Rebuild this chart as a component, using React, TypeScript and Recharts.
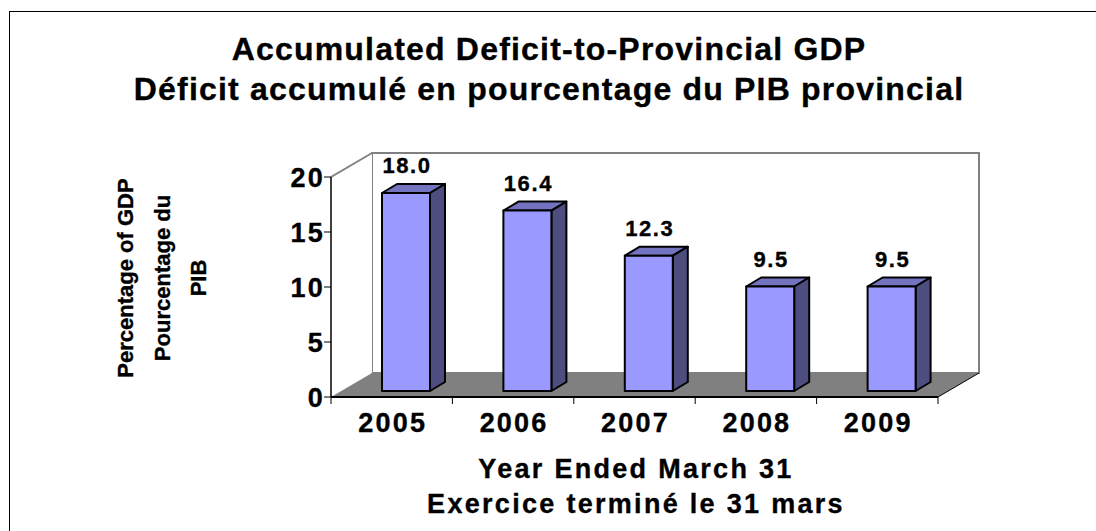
import React from 'react';
import { BarChart, Bar, XAxis, YAxis, ReferenceArea, LabelList } from 'recharts';

const years = ['2005', '2006', '2007', '2008', '2009'];
const deficitPct = [18.0, 16.4, 12.3, 9.5, 9.5];
const yTicks = [0, 5, 10, 15, 20];

const titleLines = [
  'Accumulated Deficit-to-Provincial GDP',
  'Déficit accumulé en pourcentage du PIB provincial',
];
const xTitleLines = ['Year Ended March 31', 'Exercice terminé le 31 mars'];
const yTitleLines = ['Percentage of GDP', 'Pourcentage du', 'PIB'];

const data = years.map((year, i) => ({ year, value: deficitPct[i] }));

const FONT = '"Liberation Sans", Arial, Helvetica, sans-serif';

// 3D look: wall depth and bar depth (px)
const WALL_DX = 41;
const WALL_DY = -24;
const BAR_DX = 15;
const BAR_DY = -9;
// bars sit a little behind the front edge
const BAR_OX = 14;
const BAR_OY = -6;

// slightly heavier text, closer to the GDI bold of the original
const heavy = { stroke: '#000', strokeWidth: 0.35 };

const Walls = (props: any) => {
  const { x, y, width: w, height: h } = props;
  const bottom = y + h;
  const n = years.length;
  return (
    <g>
      {/* back wall */}
      <polygon
        points={`${x + WALL_DX},${y + WALL_DY} ${x + w + WALL_DX},${y + WALL_DY} ${x + w + WALL_DX},${bottom + WALL_DY} ${x + WALL_DX},${bottom + WALL_DY}`}
        fill="#fff"
        stroke="#808080"
        strokeWidth={2}
      />
      {/* left wall */}
      <polygon
        points={`${x},${y} ${x + WALL_DX},${y + WALL_DY} ${x + WALL_DX},${bottom + WALL_DY} ${x},${bottom}`}
        fill="#fff"
        stroke="none"
      />
      <line x1={x} y1={y} x2={x + WALL_DX} y2={y + WALL_DY} stroke="#808080" strokeWidth={2} />
      {/* floor */}
      <polygon
        points={`${x},${bottom} ${x + w},${bottom} ${x + w + WALL_DX},${bottom + WALL_DY} ${x + WALL_DX},${bottom + WALL_DY}`}
        fill="#808080"
        stroke="none"
      />
      <line x1={x + w} y1={bottom} x2={x + w + WALL_DX} y2={bottom + WALL_DY} stroke="#000" strokeWidth={1} />
      {/* category boundary ticks */}
      {Array.from({ length: n + 1 }).map((_, i) => (
        <line
          key={i}
          x1={x + (i * w) / n}
          x2={x + (i * w) / n}
          y1={bottom}
          y2={bottom + 7}
          stroke="#000"
          strokeWidth={1}
        />
      ))}
    </g>
  );
};

const Bar3D = (props: any) => {
  const { x, y, width: w, height: h } = props;
  const fx = x + BAR_OX;
  const fy = y + BAR_OY;
  return (
    <g stroke="#000" strokeWidth={2} strokeLinejoin="round">
      <polygon
        points={`${fx},${fy} ${fx + BAR_DX},${fy + BAR_DY} ${fx + w + BAR_DX},${fy + BAR_DY} ${fx + w},${fy}`}
        fill="#7373C0"
      />
      <polygon
        points={`${fx + w},${fy} ${fx + w + BAR_DX},${fy + BAR_DY} ${fx + w + BAR_DX},${fy + h + BAR_DY} ${fx + w},${fy + h}`}
        fill="#4D4D80"
      />
      <rect x={fx} y={fy} width={w} height={h} fill="#9999FF" />
    </g>
  );
};

const ValueLabel = (props: any) => {
  const { x, y, width, value } = props;
  return (
    <text
      x={x + width / 2 + BAR_OX + 1}
      y={y + BAR_OY - 20}
      textAnchor="middle"
      fontFamily={FONT}
      fontWeight="bold"
      fontSize={22}
      style={{ letterSpacing: '1.6px' }}
      fill="#000"
      {...heavy}
    >
      {Number(value).toFixed(1)}
    </text>
  );
};

const YTick = (props: any) => {
  const { x, y, payload } = props;
  return (
    <text
      x={x + 2}
      y={y}
      dy={9.5}
      textAnchor="end"
      fontFamily={FONT}
      fontWeight="bold"
      fontSize={27}
      style={{ letterSpacing: '2.2px' }}
      fill="#000"
      {...heavy}
    >
      {payload.value}
    </text>
  );
};

const XTick = (props: any) => {
  const { x, y, payload } = props;
  return (
    <text
      x={x + 1}
      y={y + 30}
      textAnchor="middle"
      fontFamily={FONT}
      fontWeight="bold"
      fontSize={27}
      style={{ letterSpacing: '2.2px' }}
      fill="#000"
      {...heavy}
    >
      {payload.value}
    </text>
  );
};

export default function App() {
  return (
    <div
      style={{
        position: 'absolute',
        left: 0,
        top: 0,
        width: 1096,
        height: 531,
        overflow: 'hidden',
        background: '#fff',
      }}
    >
      <BarChart
        width={1096}
        height={531}
        data={data}
        margin={{ top: 177, right: 158, bottom: 84, left: 251 }}
        barSize={48}
      >
        <ReferenceArea y1={0} y2={20} shape={<Walls />} zIndex={-50} ifOverflow="visible" />
        <XAxis
          dataKey="year"
          height={50}
          axisLine={{ stroke: '#000', strokeWidth: 2 }}
          tickLine={false}
          tickSize={5}
          tickMargin={0}
          tick={<XTick />}
          interval={0}
        />
        <YAxis
          width={80}
          domain={[0, 20]}
          ticks={yTicks}
          interval={0}
          axisLine={{ stroke: '#000', strokeWidth: 1.5 }}
          tickLine={{ stroke: '#000' }}
          tickSize={7}
          tickMargin={1}
          tick={<YTick />}
        />
        <Bar dataKey="value" shape={<Bar3D />} isAnimationActive={false}>
          <LabelList dataKey="value" content={<ValueLabel />} />
        </Bar>
      </BarChart>

      <svg
        width={1096}
        height={531}
        style={{ position: 'absolute', left: 0, top: 0, pointerEvents: 'none' }}
      >
        <rect x={9.5} y={11.5} width={1200} height={600} fill="none" stroke="#000" strokeWidth={1} />
        {titleLines.map((t, i) => (
          <text
            key={t}
            x={549}
            y={60 + i * 40}
            textAnchor="middle"
            fontFamily={FONT}
            fontWeight="bold"
            fontSize={32}
            style={{ letterSpacing: '1.2px' }}
            fill="#000"
            {...heavy}
          >
            {t}
          </text>
        ))}
        {xTitleLines.map((t, i) => (
          <text
            key={t}
            x={636}
            y={478 + i * 35}
            textAnchor="middle"
            fontFamily={FONT}
            fontWeight="bold"
            fontSize={27}
            style={{ letterSpacing: '2.3px' }}
            fill="#000"
            {...heavy}
          >
            {t}
          </text>
        ))}
        {yTitleLines.map((t, i) => {
          const bx = 133 + i * 36.5;
          const cy = 278;
          return (
            <text
              key={t}
              x={bx}
              y={cy}
              transform={`rotate(-90, ${bx}, ${cy})`}
              textAnchor="middle"
              fontFamily={FONT}
              fontWeight="bold"
              fontSize={22}
              fill="#000"
              {...heavy}
            >
              {t}
            </text>
          );
        })}
      </svg>
    </div>
  );
}
